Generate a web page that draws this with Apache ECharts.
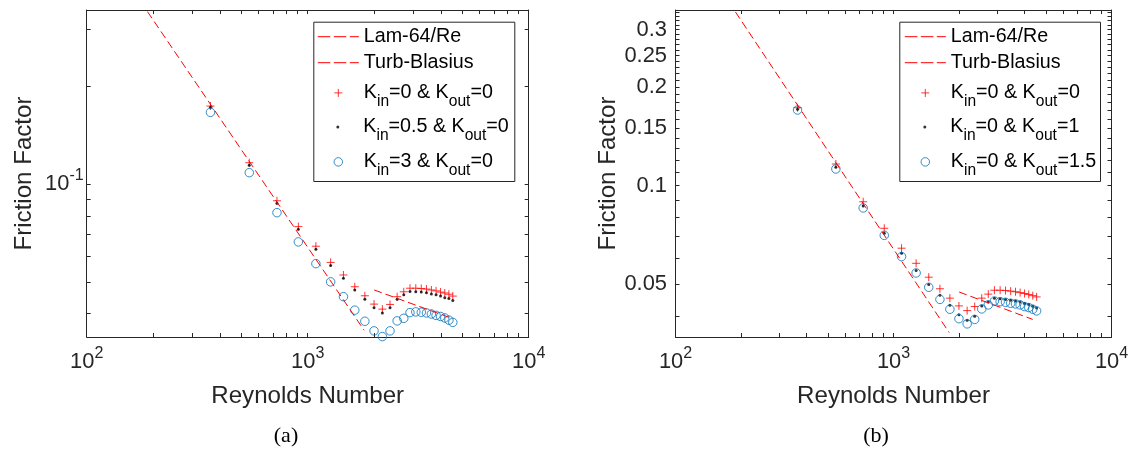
<!DOCTYPE html>
<html><head><meta charset="utf-8">
<script src="https://cdn.jsdelivr.net/npm/echarts@6/dist/echarts.min.js"></script>
<style>html,body{margin:0;padding:0;background:#fff}#c{width:1132px;height:457px}</style>
</head><body><div id="c"></div>
<script>
// ---------------- data ----------------
const reynolds = [363,544,726,907,1089,1270,1451,1633,1814,1996,2177,2358,2540,2721,2903,3084,3265,3447,3628,3810,3991,4172,4354,4535];
// panel (a)
const aK00 = [0.1741,0.1165,0.0890,0.0741,0.0645,0.0575,0.0526,0.0484,0.0454,0.0428,0.0413,0.0427,0.0451,0.0467,0.0479,0.0479,0.0478,0.0476,0.0473,0.0470,0.0466,0.0463,0.0459,0.0453];
const aK05 = [0.1725,0.1145,0.0874,0.0727,0.0631,0.0563,0.0514,0.0473,0.0443,0.0417,0.0402,0.0417,0.0443,0.0457,0.0468,0.0467,0.0466,0.0464,0.0460,0.0457,0.0453,0.0448,0.0445,0.0439];
const aK30 = [0.1665,0.1086,0.0818,0.0665,0.0570,0.0501,0.0451,0.0410,0.0379,0.0354,0.0340,0.0354,0.0380,0.0387,0.0403,0.0405,0.0404,0.0402,0.0399,0.0395,0.0392,0.0388,0.0382,0.0376];
// panel (b)
const bK00 = [0.1732,0.1165,0.0893,0.0741,0.0644,0.0579,0.0525,0.0484,0.0453,0.0429,0.0415,0.0427,0.0453,0.0466,0.0479,0.0479,0.0478,0.0476,0.0474,0.0471,0.0468,0.0465,0.0461,0.0457];
const bK10 = [0.1713,0.1138,0.0867,0.0715,0.0621,0.0550,0.0499,0.0462,0.0431,0.0403,0.0388,0.0399,0.0429,0.0441,0.0453,0.0451,0.0449,0.0446,0.0444,0.0441,0.0436,0.0433,0.0428,0.0423];
const bK15 = [0.1704,0.1125,0.0855,0.0705,0.0607,0.0541,0.0489,0.0449,0.0419,0.0392,0.0378,0.0390,0.0420,0.0432,0.0444,0.0442,0.0440,0.0437,0.0435,0.0432,0.0427,0.0424,0.0419,0.0414];
// reference lines (end points)
const lamRe = [100, 1800];
const lamF  = [0.64, 0.03556];
const blaRe = [2000, 4350];
const blaF  = [0.0473, 0.0390];
// ticks
const xLabelVals = [100, 1000, 10000];
const xLabelText = ['10^2', '10^3', '10^4'];
const xMinorVals = [200,300,400,500,600,700,800,900,2000,3000,4000,5000,6000,7000,8000,9000];
const yaLabelVals = [0.1];
const yaLabelText = ['10^-1'];
const yaMinorVals = [0.04,0.05,0.06,0.07,0.08,0.09,0.2,0.3];
const ybLabelVals = [0.05,0.1,0.15,0.2,0.25,0.3];
const ybLabelText = ['0.05','0.1','0.15','0.2','0.25','0.3'];
const ybMinorVals = [0.04,0.06,0.07,0.08,0.09,0.11,0.12,0.13,0.14,0.16,0.17,0.18,0.19,0.21,0.22,0.23,0.24,0.26,0.27,0.28,0.29,0.31,0.32,0.33,0.34];
const namesA = ['Lam-64/Re','Turb-Blasius','K_{in}=0 & K_{out}=0','K_{in}=0.5 & K_{out}=0','K_{in}=3 & K_{out}=0'];
const namesB = ['Lam-64/Re','Turb-Blasius','K_{in}=0 & K_{out}=0 ','K_{in}=0 & K_{out}=1','K_{in}=0 & K_{out}=1.5'];

// ---------------- helpers ----------------
const L10 = Math.log10;
const FONT = '"Liberation Sans", Arial, Helvetica, sans-serif';
const AX = '#262626';
const TICK_FS = 21.9, NAME_FS = 24.1, LEG_FS = 19.7;
function pts(re, f) { return re.map((r, i) => [L10(r), L10(f[i])]); }
function supRich(t) {
  const k = t.indexOf('^');
  return k < 0 ? '{b|' + t + '}' : '{b|' + t.slice(0, k) + '}{p|' + t.slice(k + 1) + '}';
}
function labelFmt(vals, texts) {
  return v => { for (let i = 0; i < vals.length; i++) if (Math.abs(L10(vals[i]) - v) < 1e-6) return supRich(texts[i]); return ''; };
}
const axisRich = {
  b: {fontSize: TICK_FS, fontFamily: FONT, color: AX, lineHeight: 22},
  p: {fontSize: 16, fontFamily: FONT, color: AX, lineHeight: 16, padding: [0, 0, 16.7, 0]}
};
function legRich(name) {
  return '{n|' + name.trim().replace(/_\{([^}]*)\}/g, '}{s|$1}{n|') + '}';
}
const legendRichStyle = {
  n: {fontSize: LEG_FS, fontFamily: FONT, color: '#000', lineHeight: 20},
  s: {fontSize: 15.6, fontFamily: FONT, color: '#000', lineHeight: 15.6, padding: [17.8, 0, 0, 0]}
};

function xAxes(gi) {
  const base = {type: 'value', gridIndex: gi, min: 2, max: 4, splitLine: {show: false},
    axisLine: {show: true, onZero: false, lineStyle: {color: AX, width: 1}},
    axisTick: {show: true, inside: true, length: 4, customValues: xLabelVals.concat(xMinorVals).map(L10), lineStyle: {color: AX, width: 1}}};
  return [
    Object.assign({}, base, {position: 'bottom', name: 'Reynolds Number', nameLocation: 'middle', nameGap: 47,
      nameTextStyle: {fontSize: NAME_FS, fontFamily: FONT, color: AX},
      axisLabel: {customValues: xLabelVals.map(L10), formatter: labelFmt(xLabelVals, xLabelText), margin: 13.5, rich: axisRich}}),
    Object.assign({}, base, {position: 'top', axisLabel: {show: false}})
  ];
}
function yAxes(gi, min, max, labVals, labText, minor, margin) {
  const base = {type: 'value', gridIndex: gi, min: min, max: max, splitLine: {show: false},
    axisLine: {show: true, onZero: false, lineStyle: {color: AX, width: 1}},
    axisTick: {show: true, inside: true, length: 4, customValues: labVals.concat(minor).map(L10), lineStyle: {color: AX, width: 1}}};
  return [
    Object.assign({}, base, {position: 'left', name: 'Friction Factor', nameLocation: 'middle', nameGap: 50,
      nameTextStyle: {fontSize: NAME_FS, fontFamily: FONT, color: AX},
      axisLabel: {customValues: labVals.map(L10), formatter: labelFmt(labVals, labText), margin: margin, rich: axisRich}}),
    Object.assign({}, base, {position: 'right', axisLabel: {show: false}})
  ];
}
const PLUS = 'path://M0,4L8,4M4,0L4,8';
function lineSeries(name, gi, re, f) {
  return {type: 'line', name: name, xAxisIndex: gi * 2, yAxisIndex: gi * 2, data: pts(re, f), symbol: 'none',
    itemStyle: {color: 'transparent', borderWidth: 0},
    lineStyle: {color: '#FF0000', width: 1, type: [8, 4]}, clip: true, silent: true, animation: false};
}
function plusSeries(name, gi, f) {
  return {type: 'scatter', name: name, xAxisIndex: gi * 2, yAxisIndex: gi * 2, data: pts(reynolds, f), symbol: PLUS, symbolSize: 8,
    itemStyle: {color: 'transparent', borderColor: '#FF0000', borderWidth: 1}, clip: false, silent: true, animation: false};
}
function dotSeries(name, gi, f) {
  return {type: 'scatter', name: name, xAxisIndex: gi * 2, yAxisIndex: gi * 2, data: pts(reynolds, f), symbol: 'circle', symbolSize: 3,
    itemStyle: {color: '#000'}, clip: false, silent: true, animation: false};
}
function circSeries(name, gi, f) {
  return {type: 'scatter', name: name, xAxisIndex: gi * 2, yAxisIndex: gi * 2, data: pts(reynolds, f), symbol: 'circle', symbolSize: 8.5,
    itemStyle: {color: 'transparent', borderColor: '#0072BD', borderWidth: 1}, clip: false, silent: true, animation: false};
}
const rowY = [36.7, 62.7, 92.7, 126.7, 161.7];
const rowH = [20, 20, 33.4, 33.4, 33.4];
const iconH = [8, 8, 8, 3, 8.5];
const isLineRow = [true, true, false, false, false];
function legends(names, x) {
  return names.map((nm, i) => ({
    show: true, data: [nm], orient: 'vertical',
    left: isLineRow[i] ? x : x + (41 - iconH[i]) / 2,
    top: rowY[i] - rowH[i] / 2, padding: 0,
    itemWidth: 41, itemHeight: iconH[i], selectedMode: false,
    itemStyle: isLineRow[i] ? {color: 'transparent', borderColor: 'transparent', borderWidth: 0} : {borderWidth: 1},
    lineStyle: {width: 1, type: [12.5, 3.5]},
    textStyle: {fontSize: LEG_FS, fontFamily: FONT, color: '#000', rich: legendRichStyle},
    formatter: n => legRich(n)
  }));
}
const CAP = {fontSize: 22, fontWeight: 'normal', fontFamily: '"Liberation Serif", "DejaVu Serif", serif', color: '#000'};

const option = {
  animation: false,
  backgroundColor: '#fff',
  grid: [
    {left: 86.7, top: 10, width: 442, height: 327, containLabel: false, outerBoundsMode: 'none'},
    {left: 675.5, top: 10, width: 436, height: 327, containLabel: false, outerBoundsMode: 'none'}
  ],
  xAxis: xAxes(0).concat(xAxes(1)),
  yAxis: yAxes(0, -1.4698, -0.4637, yaLabelVals, yaLabelText, yaMinorVals, 3)
    .concat(yAxes(1, -1.4627, -0.4627, ybLabelVals, ybLabelText, ybMinorVals, 8.5)),
  legend: legends(namesA, 317.3).concat(legends(namesB, 904.3)),
  title: [
    {text: '(a)', left: 286, top: 425, textAlign: 'center', padding: 0, textStyle: CAP},
    {text: '(b)', left: 876, top: 425, textAlign: 'center', padding: 0, textStyle: CAP}
  ],
  graphic: [
    {type: 'rect', left: 313.3, top: 21.7, shape: {width: 201, height: 159.3}, style: {fill: '#fff', stroke: AX, lineWidth: 1}, z: -1, silent: true},
    {type: 'rect', left: 899.3, top: 21.7, shape: {width: 200.7, height: 159.3}, style: {fill: '#fff', stroke: AX, lineWidth: 1}, z: -1, silent: true}
  ],
  series: [
    lineSeries(namesA[0], 0, lamRe, lamF),
    lineSeries(namesA[1], 0, blaRe, blaF),
    plusSeries(namesA[2], 0, aK00),
    dotSeries(namesA[3], 0, aK05),
    circSeries(namesA[4], 0, aK30),
    lineSeries(namesB[0], 1, lamRe, lamF),
    lineSeries(namesB[1], 1, blaRe, blaF),
    plusSeries(namesB[2], 1, bK00),
    dotSeries(namesB[3], 1, bK10),
    circSeries(namesB[4], 1, bK15)
  ]
};
const chart = echarts.init(document.getElementById('c'), null, {renderer: 'canvas'});
chart.setOption(option);
</script>
</body></html>
